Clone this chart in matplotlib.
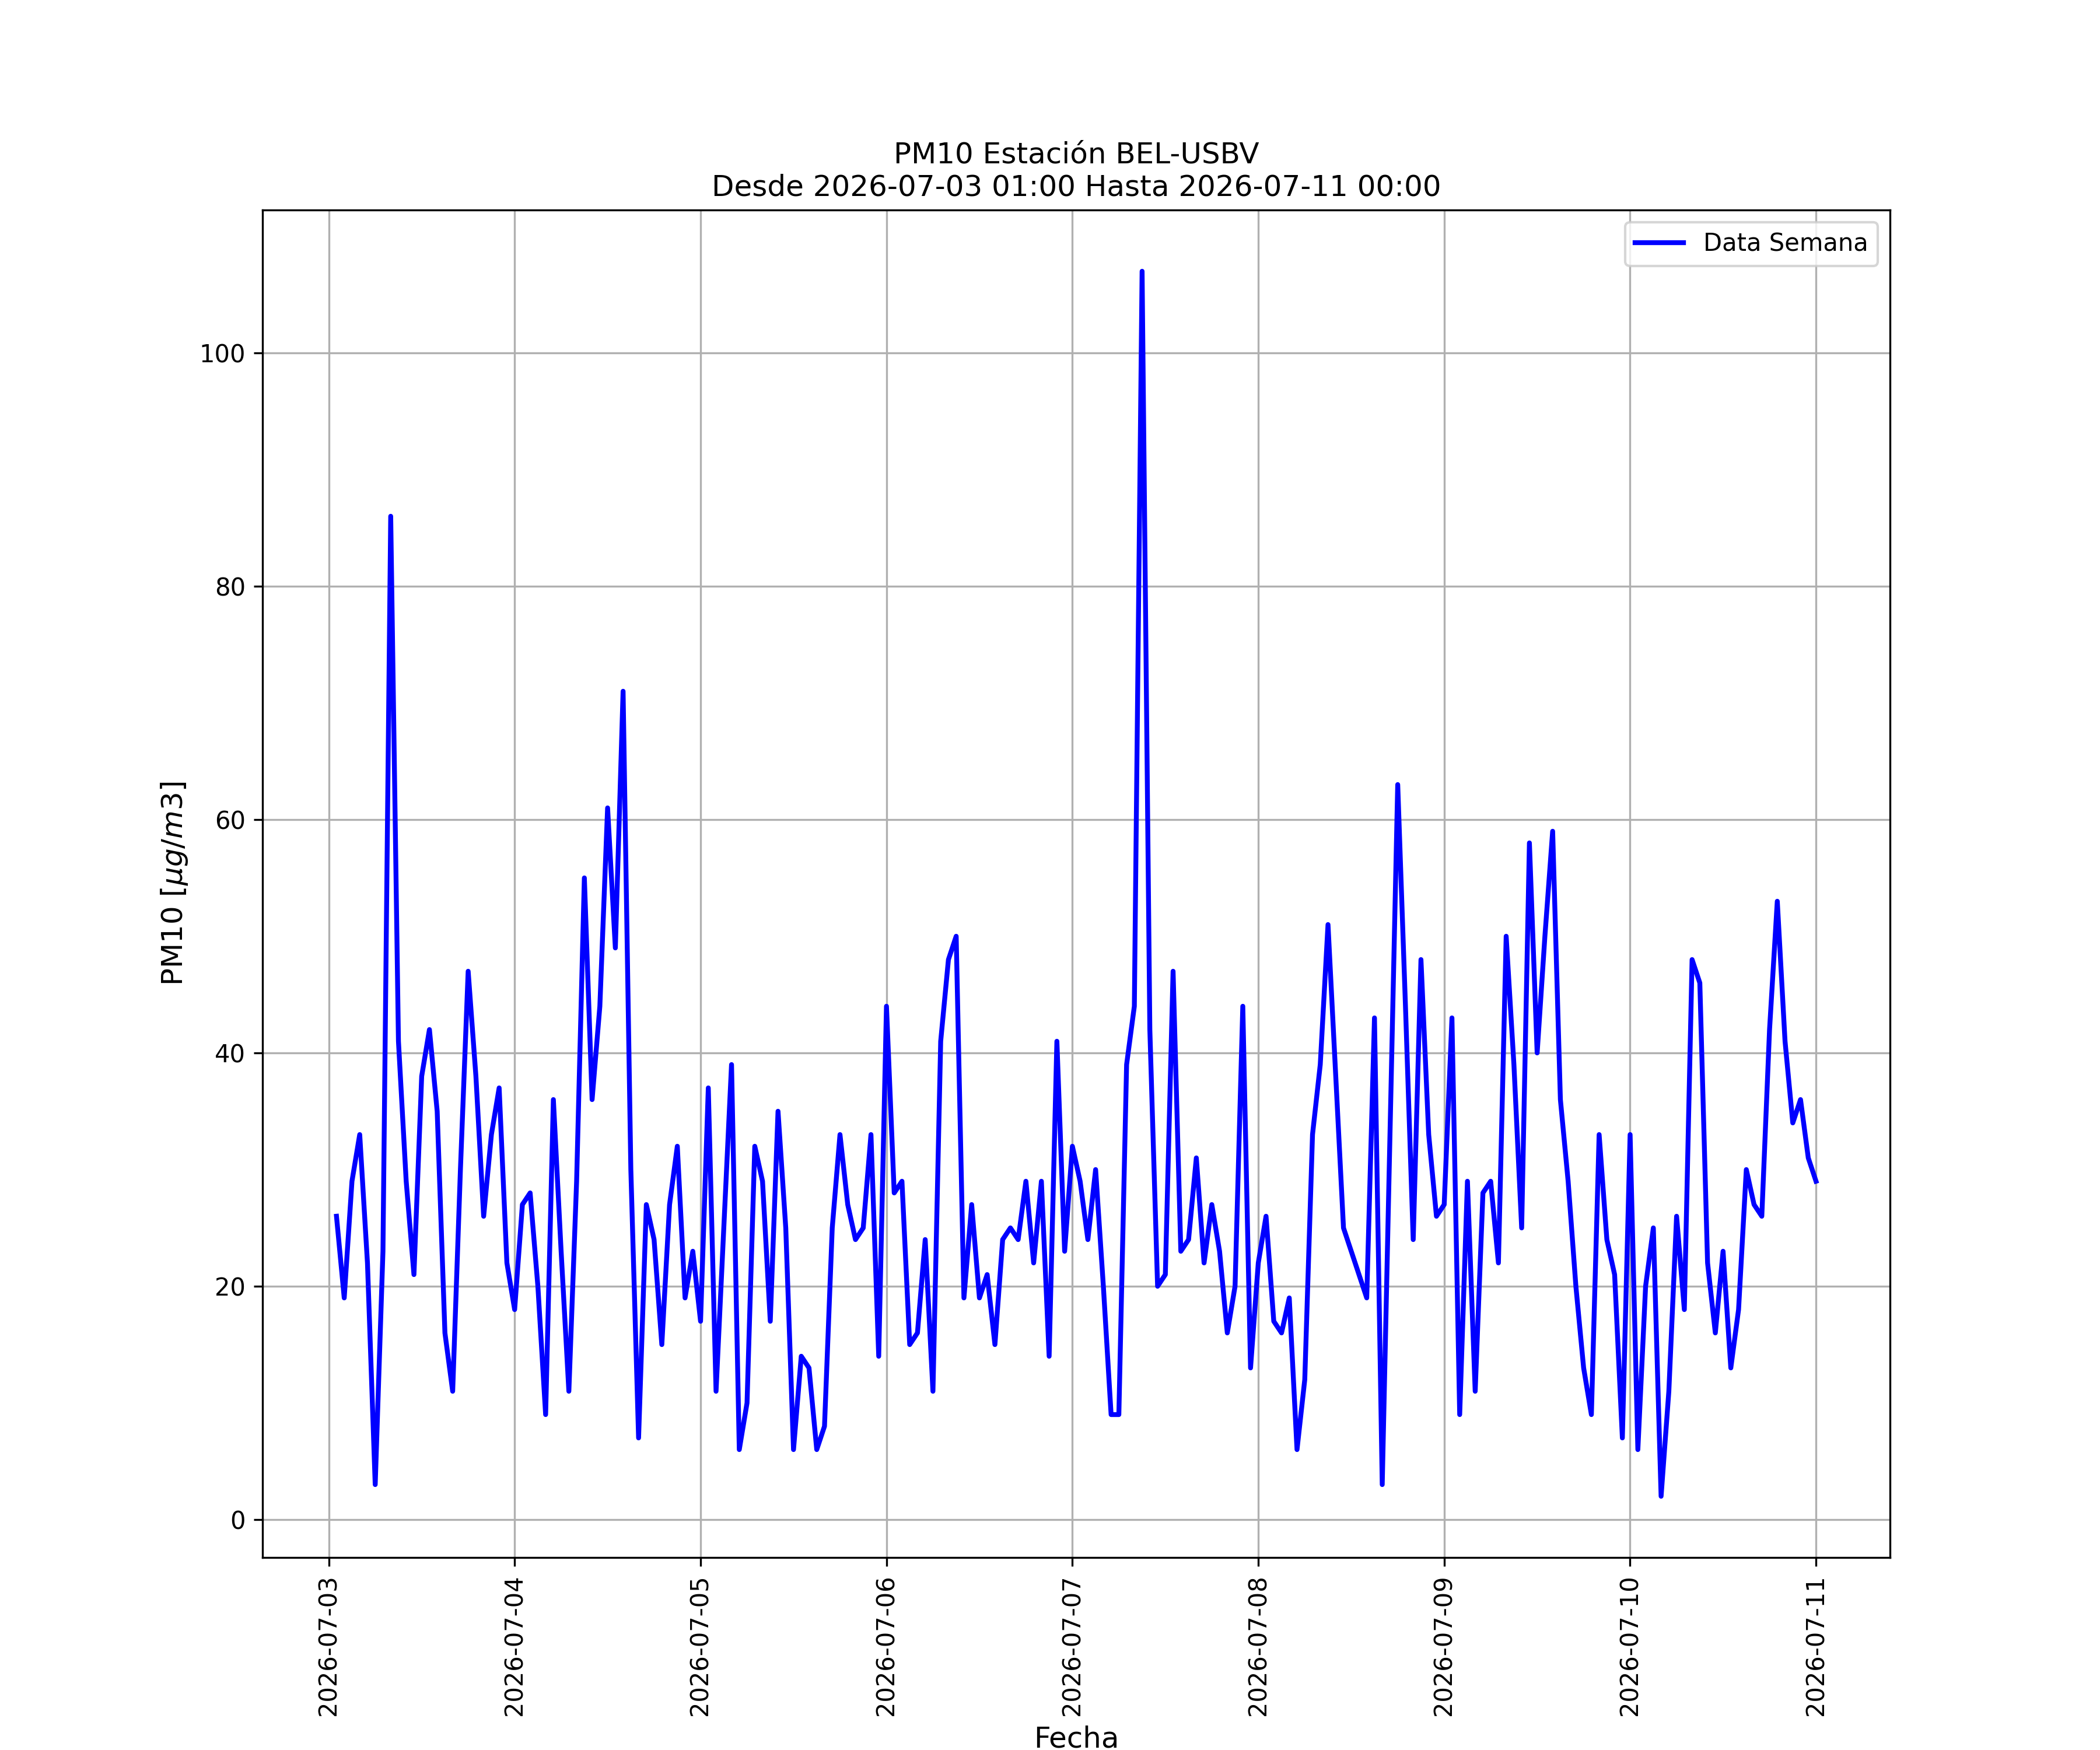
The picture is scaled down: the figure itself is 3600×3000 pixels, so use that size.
import numpy as np
import pandas as pd
import matplotlib
matplotlib.use('Agg')
import matplotlib.pyplot as plt

# PM10 horario, 2026-07-03 01:00 a 2026-07-11 00:00
dia_03 = [26, 19, 29, 33, 22, 3, 23, 86, 41, 29, 21, 38, 42, 35, 16, 11, 30, 47, 38, 26, 33, 37, 22]
dia_04 = [18, 27, 28, 20, 9, 36, 23, 11, 29, 55, 36, 44, 61, 49, 71, 30, 7, 27, 24, 15, 27, 32, 19, 23]
dia_05 = [17, 37, 11, 25, 39, 6, 10, 32, 29, 17, 35, 25, 6, 14, 13, 6, 8, 25, 33, 27, 24, 25, 33, 14]
dia_06 = [44, 28, 29, 15, 16, 24, 11, 41, 48, 50, 19, 27, 19, 21, 15, 24, 25, 24, 29, 22, 29, 14, 41, 23]
dia_07 = [32, 29, 24, 30, 20, 9, 9, 39, 44, 107, 42, 20, 21, 47, 23, 24, 31, 22, 27, 23, 16, 20, 44, 13]
dia_08 = [22, 26, 17, 16, 19, 6, 12, 33, 39, 51, 38, 25, 23, 21, 19, 43, 3, 33, 63, 44, 24, 48, 33, 26]
dia_09 = [27, 43, 9, 29, 11, 28, 29, 22, 50, 39, 25, 58, 40, 50, 59, 36, 29, 20, 13, 9, 33, 24, 21, 7]
dia_10 = [33, 6, 20, 25, 2, 11, 26, 18, 48, 46, 22, 16, 23, 13, 18, 30, 27, 26, 42, 53, 41, 34, 36, 31]
dia_11 = [29]

pm10 = dia_03 + dia_04 + dia_05 + dia_06 + dia_07 + dia_08 + dia_09 + dia_10 + dia_11
fechas = pd.date_range('2026-07-03 01:00', periods=len(pm10), freq='h')

estacion = 'BEL-USBV'
inicio = fechas[0].strftime('%Y-%m-%d %H:%M')
fin = fechas[-1].strftime('%Y-%m-%d %H:%M')

fig = plt.figure(figsize=(12, 10), dpi=300)
plt.plot(fechas, pm10, color='blue', linewidth=2, label='Data Semana')
plt.title('PM10 Estación ' + estacion + '\nDesde ' + inicio + ' Hasta ' + fin, fontsize=12)
plt.xlabel('Fecha', fontsize=12)
plt.ylabel(r'PM10 [$\mu g/m3$]', fontsize=12)
plt.xticks(rotation=90)
plt.grid(True)
plt.legend(loc='upper right')
plt.savefig('out.png', dpi=300)
